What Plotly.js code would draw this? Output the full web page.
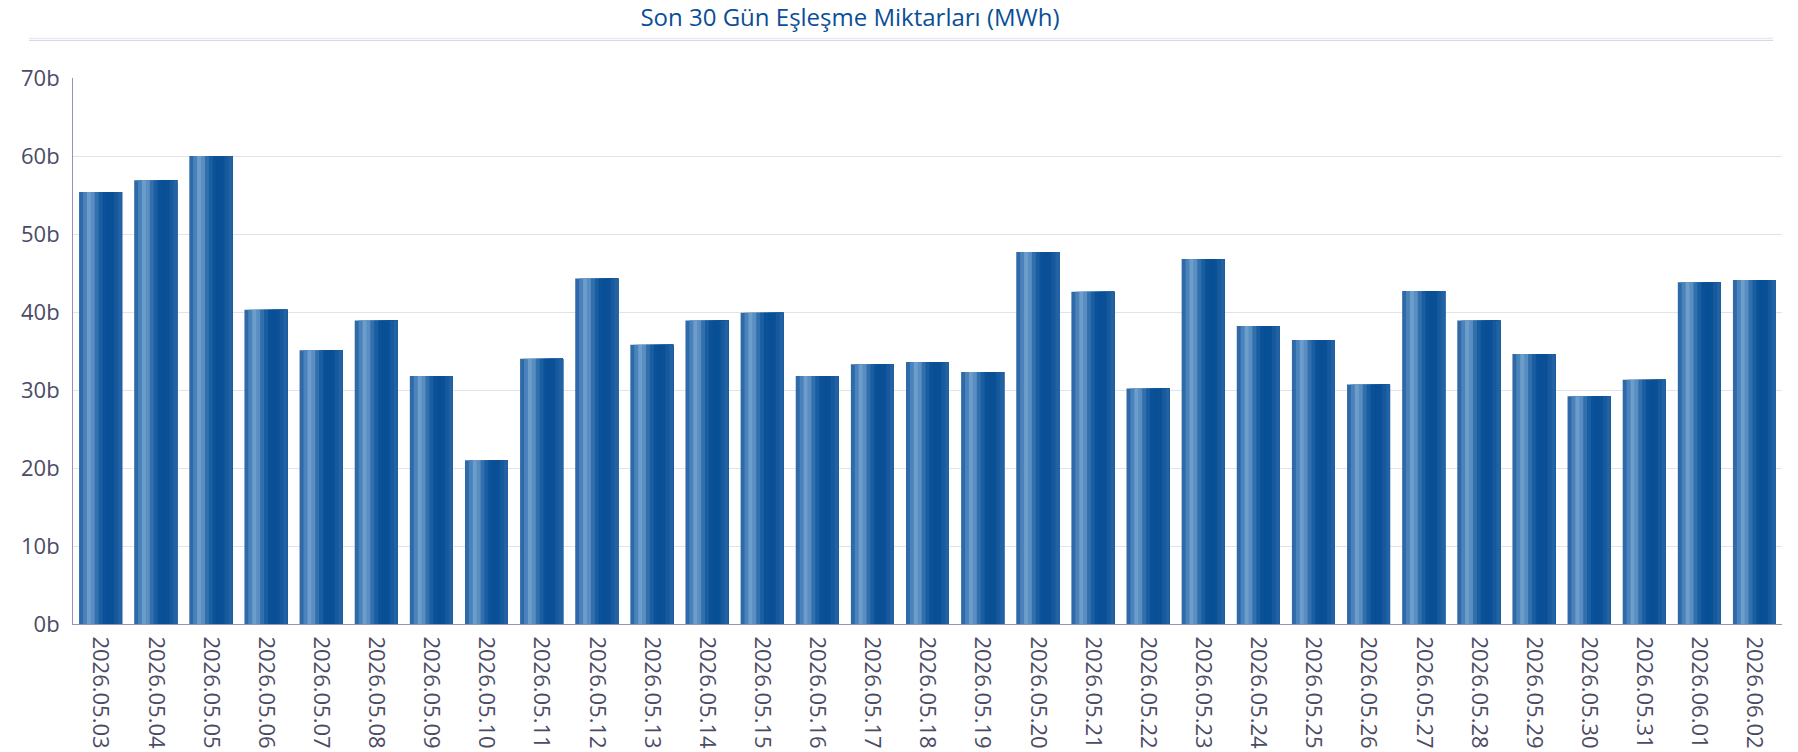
<!DOCTYPE html>
<html>
<head>
<meta charset="utf-8">
<script src="https://cdn.plot.ly/plotly-3.0.1.min.js"></script>
<style>html,body{margin:0;padding:0;background:#fff;}#chart{width:1798px;height:752px;}</style>
</head>
<body>
<div id="chart"></div>
<script>
const dates = ["2026.05.03","2026.05.04","2026.05.05","2026.05.06","2026.05.07","2026.05.08","2026.05.09","2026.05.10","2026.05.11","2026.05.12","2026.05.13","2026.05.14","2026.05.15","2026.05.16","2026.05.17","2026.05.18","2026.05.19","2026.05.20","2026.05.21","2026.05.22","2026.05.23","2026.05.24","2026.05.25","2026.05.26","2026.05.27","2026.05.28","2026.05.29","2026.05.30","2026.05.31","2026.06.01","2026.06.02"];
const amounts = [55.4,56.9,60.0,40.3,35.1,38.9,31.8,21.0,34.0,44.3,35.8,38.9,39.9,31.8,33.3,33.6,32.3,47.7,42.6,30.2,46.8,38.2,36.4,30.7,42.7,38.9,34.6,29.2,31.3,43.8,44.1];
const yTickVals = [0,10,20,30,40,50,60,70];
const yTickText = ["0b","10b","20b","30b","40b","50b","60b","70b"];
const titleText = "Son 30 Gün Eşleşme Miktarları (MWh)";

// horizontal gradient of each bar, left to right
const stripeColors = ["#2f69a8","#4a82bb","#6d9dca","#5a8ec2","#3270ad","#1a5ea2","#0b5198","#084f96","#0a5097","#16599d","#2362a2"];
const barW = 0.78;
const stripeW = barW / stripeColors.length;

const traces = stripeColors.map((c, i) => ({
  type: 'bar',
  x: dates,
  y: amounts,
  width: barW - i * stripeW,
  offset: -barW / 2 + i * stripeW,
  marker: {color: c, line: {width: 0}},
  hoverinfo: i === 0 ? 'x+y' : 'skip',
  showlegend: false
}));

const L = 73, R = 1782, T = 78, B = 624;
const pw = R - L, ph = B - T;
const px = v => (v - L) / pw;
const py = v => (B - v) / ph;

const layout = {
  width: 1798, height: 752,
  margin: {l: L, r: 1798 - R, t: T, b: 752 - B, pad: 0},
  paper_bgcolor: '#ffffff', plot_bgcolor: '#ffffff',
  barmode: 'overlay',
  font: {family: 'Open Sans, Noto Sans, sans-serif', color: '#4b4b66'},
  title: {
    text: titleText,
    font: {family: 'Open Sans, Noto Sans, sans-serif', size: 24, color: '#0a4f96'},
    xref: 'container', yref: 'container',
    x: 850 / 1798, xanchor: 'center',
    y: 1 - 18 / 752, yanchor: 'middle'
  },
  xaxis: {
    type: 'category',
    tickangle: 90,
    tickfont: {size: 22, color: '#4b4b66'},
    ticklabelstandoff: 7,
    showline: true, linecolor: '#9494b4', linewidth: 1,
    showgrid: false, ticks: '', ticklen: 0,
    automargin: false
  },
  yaxis: {
    range: [0, 70],
    tickvals: yTickVals, ticktext: yTickText,
    tickfont: {size: 22, color: '#4b4b66'},
    ticklabelstandoff: 8,
    showline: true, linecolor: '#9494b4', linewidth: 1,
    showgrid: true, gridcolor: '#e2e2ee', gridwidth: 1,
    zeroline: false, ticks: '', automargin: false
  },
  shapes: [
    {type: 'line', xref: 'paper', yref: 'paper', x0: px(29), x1: px(1773), y0: py(38.5), y1: py(38.5), line: {color: '#e8e8f1', width: 1.5}},
    {type: 'line', xref: 'paper', yref: 'paper', x0: px(29), x1: px(1773), y0: py(40.5), y1: py(40.5), line: {color: '#d8d8e5', width: 1.2}}
  ]
};

Plotly.newPlot('chart', traces, layout, {displayModeBar: false, responsive: false});
</script>
</body>
</html>
